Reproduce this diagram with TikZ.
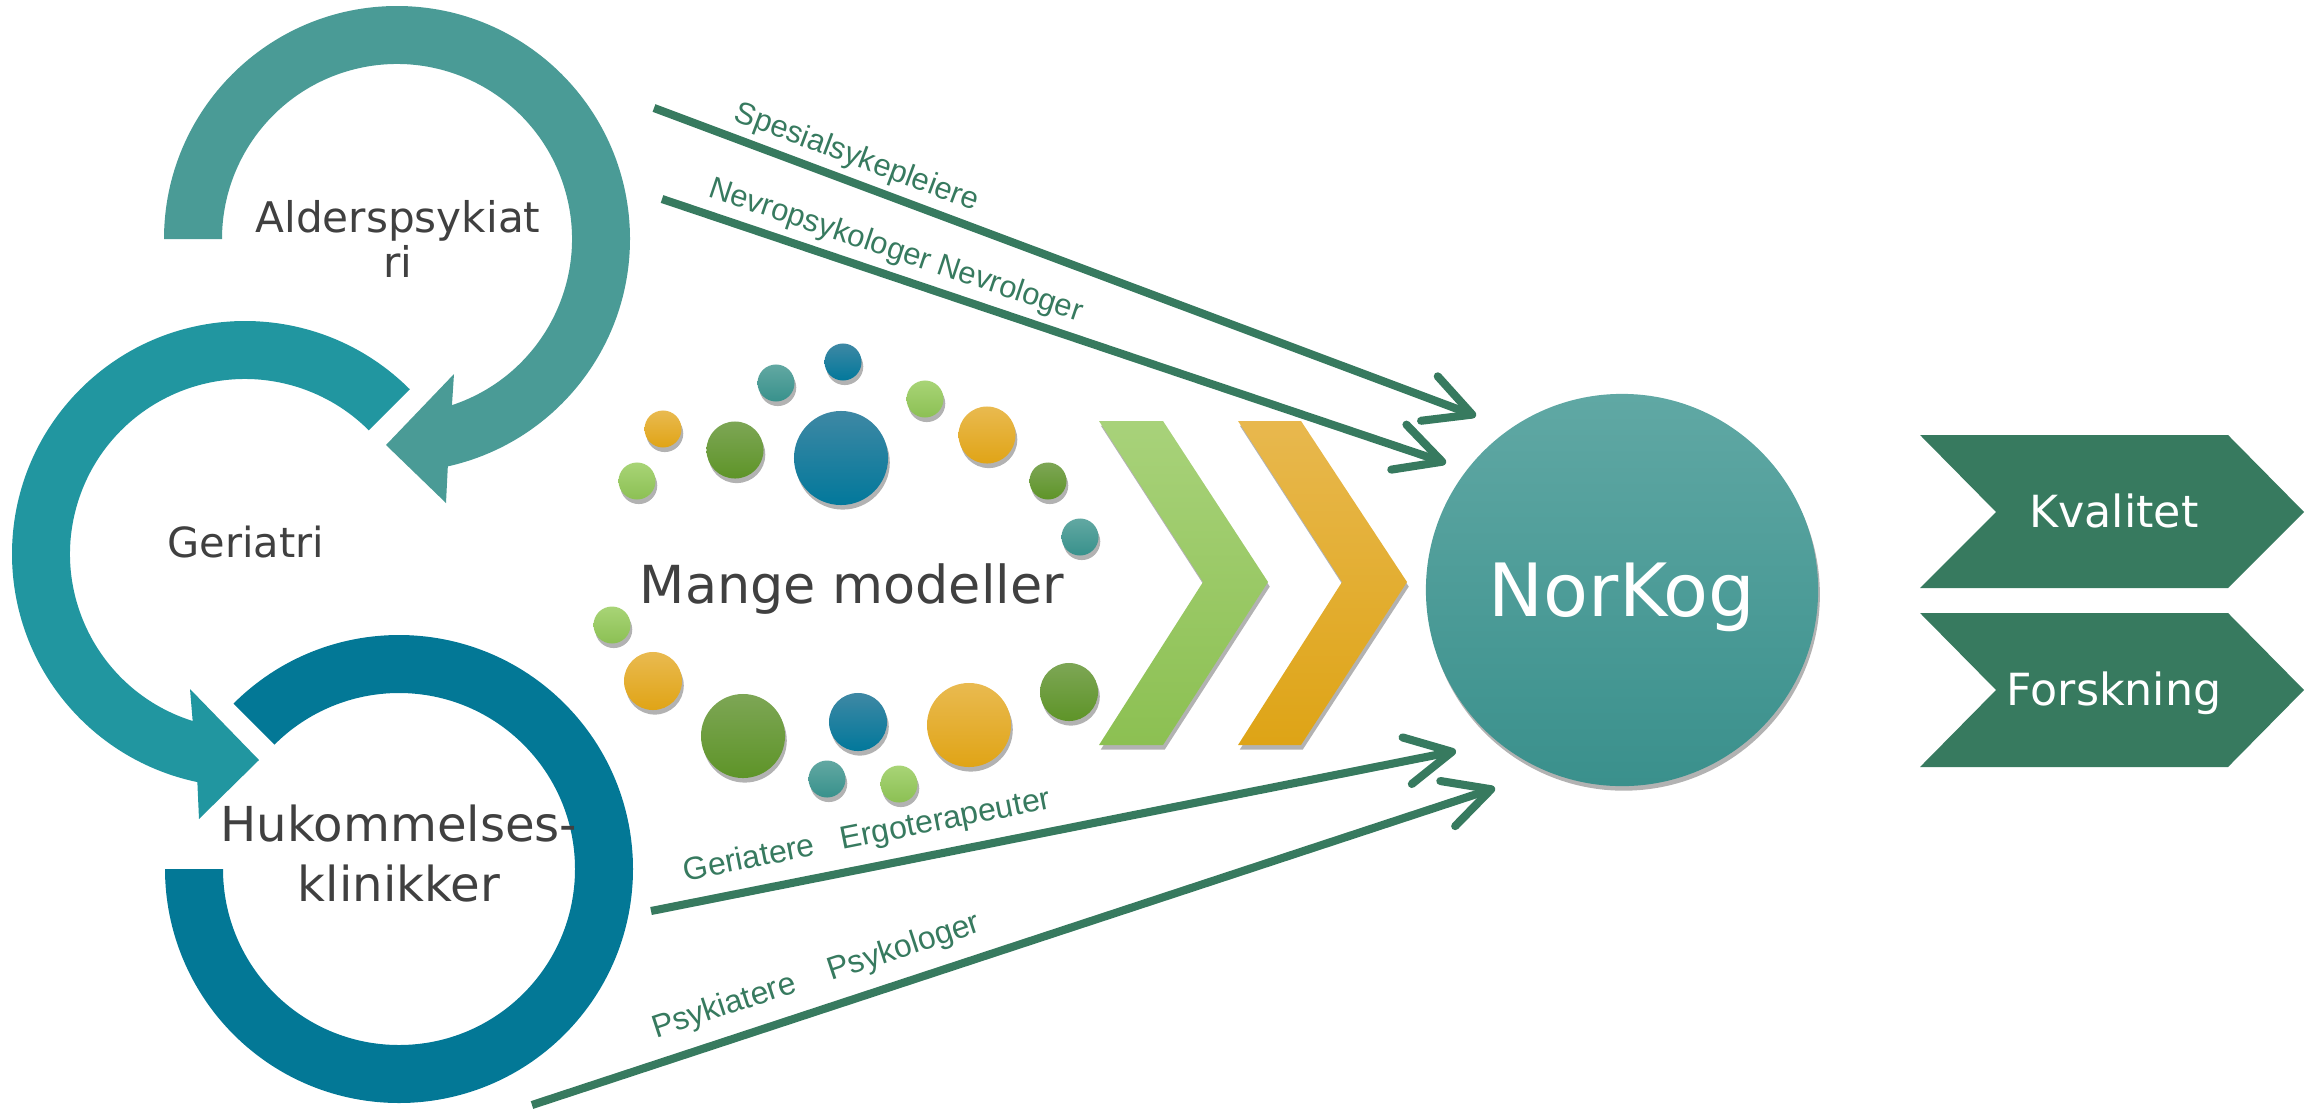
\documentclass[tikz,border=0pt]{standalone}
\usepackage{fontspec}
\setmainfont{DejaVu Sans}
\newfontfamily\arialf{Liberation Sans}
\usetikzlibrary{arrows.meta,shadows}
\definecolor{txtgray}{RGB}{64,64,64}
\definecolor{arcA}{RGB}{74,155,150}
\definecolor{arcB}{RGB}{33,150,160}
\definecolor{arcC}{RGB}{3,120,150}
\definecolor{flowgreen}{RGB}{55,122,95}
\definecolor{lgT}{RGB}{168,212,118}\definecolor{lgB}{RGB}{140,192,84}
\definecolor{dgT}{RGB}{125,166,85}\definecolor{dgB}{RGB}{94,148,40}
\definecolor{orT}{RGB}{233,186,80}\definecolor{orB}{RGB}{224,164,22}
\definecolor{blT}{RGB}{62,136,164}\definecolor{blB}{RGB}{2,120,155}
\definecolor{tlT}{RGB}{98,168,162}\definecolor{tlB}{RGB}{56,145,140}
\definecolor{nkT}{RGB}{96,168,164}\definecolor{nkB}{RGB}{58,144,140}
\definecolor{cgT}{RGB}{168,210,122}\definecolor{cgB}{RGB}{140,192,82}
\definecolor{coT}{RGB}{232,184,78}\definecolor{coB}{RGB}{222,164,22}
\begin{document}
\begin{tikzpicture}[x=0.01cm, y=-0.01cm,
  lbl/.style={text=txtgray, inner sep=0pt},
  softshadow/.style={drop shadow={shadow xshift=0.5pt, shadow yshift=-1.3pt, opacity=0.3, fill=black}},
  dot/.style={circle, inner sep=0pt, draw=none, softshadow},
  lg/.style={dot, top color=lgT, bottom color=lgB},
  dg/.style={dot, top color=dgT, bottom color=dgB},
  og/.style={dot, top color=orT, bottom color=orB},
  bl/.style={dot, top color=blT, bottom color=blB},
  tl/.style={dot, top color=tlT, bottom color=tlB},
  sz/.style={minimum size=#1},
  flow/.style={draw=flowgreen, line width=2.3pt, -{Straight Barb[length=13pt,width=13.5pt,round]}},
  flowlbl/.style={font=\arialf\fontsize{8.8}{10}\selectfont, text=flowgreen, inner sep=0pt, sloped},
  flowlblb/.style={flowlbl, font=\arialf\fontsize{9.1}{10}\selectfont},
  sign/.style={fill=flowgreen}
]
\useasboundingbox (0,0) rectangle (2316,1109);

% ---- circular arrows ----
% top: Alderspsykiatri
\fill[arcA] (164,239) arc[start angle=180, end angle=437.4, radius=233]
  -- (446,503) -- (386,445) -- (454,374)
  -- ([shift={(397,239)}]71.7:175) arc[start angle=431.7, end angle=180, radius=175] -- cycle;
% middle: Geriatri
\fill[arcB] ([shift={(245,554)}]-45:233) arc[start angle=-45, end angle=-258.2, radius=233]
  -- (199,819) -- (259,760) -- (190,689)
  -- ([shift={(245,554)}]-252.6:175) arc[start angle=-252.6, end angle=-45, radius=175] -- cycle;
% bottom: Hukommelsesklinikker
\fill[arcC] ([shift={(399,869)}]-135:234) arc[start angle=-135, end angle=180, radius=234]
  -- ([shift={(399,869)}]180:176) arc[start angle=180, end angle=-135, radius=176] -- cycle;

\node (alder) [lbl, font=\fontsize{12}{12.8}\selectfont, align=center] at (398,238.5) {Alderspsykiat\\ri};
\node (geri) [lbl, font=\fontsize{11.8}{13}\selectfont, anchor=base] at (246,557) {Geriatri};
\node (huk) [lbl, font=\fontsize{13.7}{16.8}\selectfont, align=center] at (399,853.5) {Hukommelses-\\klinikker};

% ---- dots ----
\node (d1)  [tl, sz=0.37cm] at (776,383) {};
\node (d2)  [bl, sz=0.37cm] at (843,362) {};
\node (d3)  [og, sz=0.37cm] at (663,429) {};
\node (d4)  [dg, sz=0.57cm] at (735,450) {};
\node (d5)  [bl, sz=0.94cm] at (841,458) {};
\node (d6)  [lg, sz=0.37cm] at (925,399) {};
\node (d7)  [og, sz=0.57cm] at (987,435) {};
\node (d8)  [dg, sz=0.37cm] at (1048,481) {};
\node (d9)  [tl, sz=0.37cm] at (1080,537) {};
\node (d10) [lg, sz=0.37cm] at (637,481) {};
\node (d11) [lg, sz=0.37cm] at (612,625) {};
\node (d12) [og, sz=0.58cm] at (653,681) {};
\node (d13) [dg, sz=0.84cm] at (743,736) {};
\node (d14) [bl, sz=0.58cm] at (858,722) {};
\node (d15) [tl, sz=0.37cm] at (827,779) {};
\node (d16) [lg, sz=0.37cm] at (899,784) {};
\node (d17) [og, sz=0.84cm] at (969,725) {};
\node (d18) [dg, sz=0.58cm] at (1069,692) {};
\node (mange) [lbl, font=\fontsize{14.9}{17}\selectfont, anchor=base] at (852,603) {Mange modeller};

% ---- chevrons ----
\shade[top color=cgT, bottom color=cgB, softshadow] (1099,421) -- (1163,421) -- (1268,582) -- (1163,745) -- (1099,745) -- (1203,582) -- cycle;
\shade[top color=coT, bottom color=coB, softshadow] (1238,421) -- (1301,421) -- (1407,582) -- (1301,745) -- (1238,745) -- (1342,582) -- cycle;

% ---- NorKog ----
\node (norkog) [circle, minimum size=3.92cm, inner sep=0pt, top color=nkT, bottom color=nkB, text=white,
  font=\fontsize{20.9}{24}\selectfont, text depth=0pt, softshadow] at (1622,590) {NorKog};

% ---- outcome signs ----
\fill[sign] (1920,435) -- (2228,435) -- (2304,512) -- (2228,588) -- (1920,588) -- (1996,512) -- cycle;
\fill[sign] (1920,613) -- (2228,613) -- (2304,690) -- (2228,767) -- (1920,767) -- (1996,690) -- cycle;
\node (kval) [inner sep=0pt, text=white, font=\fontsize{12.6}{14}\selectfont, anchor=base] at (2114,527) {Kvalitet};
\node (forsk) [inner sep=0pt, text=white, font=\fontsize{12.6}{14}\selectfont, anchor=base] at (2114,705) {Forskning};

% ---- flows ----
\coordinate (s1) at (654,108);  \coordinate (e1) at (1476,416);
\coordinate (s2) at (662,199);  \coordinate (e2) at (1446,463);
\coordinate (s3) at (651,911);  \coordinate (e3) at (1456,751);
\coordinate (s4) at (532,1105); \coordinate (e4) at (1495,788);
\draw[flow] (s1) -- node[flowlbl, pos=0.236, above=1.6pt] (l1) {Spesialsykepleiere} (e1);
\draw[flow] (s2) -- node[flowlbl, pos=0.288, above=1.85pt] (l2) {Nevropsykologer Nevrologer} (e2);
\draw[flow] (s3) -- node[flowlblb, pos=0.276, above=3.4pt] (l3) {Geriatere~~~Ergoterapeuter} (e3);
\draw[flow] (s4) -- node[flowlblb, pos=0.306, above=3.9pt] (l4) {Psykiatere~~~~Psykologer} (e4);
\end{tikzpicture}
\end{document}
